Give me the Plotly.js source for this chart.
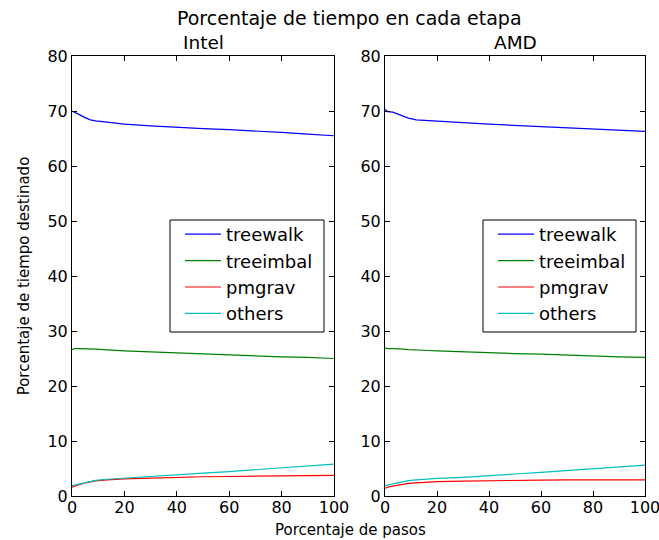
<!DOCTYPE html>
<html>
<head>
<meta charset="utf-8">
<script src="https://cdn.plot.ly/plotly-3.0.1.min.js"></script>
<style>html,body{margin:0;padding:0;background:#fff;}#chart{width:659px;height:540px;}</style>
</head>
<body>
<div id="chart"></div>
<script>
// Percent of steps (x) sampled along the run
const pasos = [0, 1, 3, 5, 7, 9, 12, 15, 20, 30, 40, 50, 60, 70, 80, 90, 100];

// Intel
const intelTreewalk  = [70.0, 69.8, 69.3, 68.8, 68.4, 68.2, 68.0, 67.8, 67.6, 67.3, 67.0, 66.8, 66.6, 66.4, 66.1, 65.8, 65.5];
const intelTreeimbal = [26.6, 26.8, 26.8, 26.8, 26.8, 26.7, 26.6, 26.5, 26.4, 26.2, 26.0, 25.8, 25.7, 25.5, 25.3, 25.2, 25.0];
const intelPmgrav    = [1.6, 1.8, 2.1, 2.4, 2.6, 2.75, 2.9, 3.0, 3.1, 3.25, 3.4, 3.5, 3.55, 3.6, 3.7, 3.75, 3.75];
const intelOthers    = [1.9, 2.0, 2.2, 2.5, 2.7, 2.85, 3.0, 3.1, 3.25, 3.5, 3.85, 4.15, 4.45, 4.8, 5.15, 5.5, 5.8];

// AMD
const amdTreewalk  = [70.3, 69.9, 69.8, 69.4, 69.0, 68.7, 68.4, 68.3, 68.1, 67.9, 67.6, 67.4, 67.2, 67.0, 66.8, 66.6, 66.3];
const amdTreeimbal = [26.9, 26.8, 26.8, 26.8, 26.7, 26.6, 26.5, 26.5, 26.4, 26.2, 26.0, 25.9, 25.8, 25.6, 25.4, 25.3, 25.2];
const amdPmgrav    = [1.4, 1.6, 1.8, 2.0, 2.2, 2.3, 2.4, 2.5, 2.6, 2.7, 2.8, 2.85, 2.9, 2.95, 2.95, 2.95, 2.95];
const amdOthers    = [1.9, 2.0, 2.2, 2.4, 2.6, 2.8, 2.95, 3.05, 3.2, 3.4, 3.75, 4.0, 4.3, 4.6, 4.95, 5.3, 5.6];

const seriesNames = ['treewalk', 'treeimbal', 'pmgrav', 'others'];
const seriesColors = ['#0000ff', '#008000', '#ff0000', '#00bfbf'];
const xTicks = [0, 20, 40, 60, 80, 100];
const yTicks = [0, 10, 20, 30, 40, 50, 60, 70, 80];

const FONT = 'DejaVu Sans, sans-serif';

const intelData = [intelTreewalk, intelTreeimbal, intelPmgrav, intelOthers];
const amdData = [amdTreewalk, amdTreeimbal, amdPmgrav, amdOthers];

const traces = [];
intelData.forEach((ys, i) => traces.push({
  x: pasos, y: ys, type: 'scatter', mode: 'lines', name: seriesNames[i],
  line: {color: seriesColors[i], width: 1.2}, xaxis: 'x', yaxis: 'y', legend: 'legend'
}));
amdData.forEach((ys, i) => traces.push({
  x: pasos, y: ys, type: 'scatter', mode: 'lines', name: seriesNames[i],
  line: {color: seriesColors[i], width: 1.2}, xaxis: 'x2', yaxis: 'y2', legend: 'legend2'
}));

function xax(domain, anchor) {
  return {
    domain: domain, anchor: anchor, range: [0, 100], tickvals: xTicks,
    ticks: 'inside', ticklen: 5, tickcolor: '#000', showline: true, linecolor: '#000',
    linewidth: 1, mirror: 'ticks', showgrid: false, zeroline: false,
    ticklabeloverflow: 'allow', ticklabelstandoff: -3,
    tickfont: {family: FONT, size: 16, color: '#000'}
  };
}
function yax(domain, anchor, titleText) {
  const a = {
    domain: domain, anchor: anchor, range: [0, 80], tickvals: yTicks,
    ticks: 'inside', ticklen: 5, tickcolor: '#000', showline: true, linecolor: '#000',
    linewidth: 1, mirror: 'ticks', showgrid: false, zeroline: false,
    ticklabeloverflow: 'allow',
    tickfont: {family: FONT, size: 16, color: '#000'}
  };
  if (titleText) a.title = {text: titleText, font: {family: FONT, size: 15, color: '#000'}, standoff: 14};
  return a;
}

const yDom = [44 / 540, 484 / 540];
const legendCommon = {
  bgcolor: 'rgba(0,0,0,0)', borderwidth: 0, itemwidth: 36,
  font: {family: FONT, size: 18, color: '#000'}, xanchor: 'left', yanchor: 'top'
};

function legendFrame(x0, x1) {
  return {type: 'rect', xref: 'paper', yref: 'paper', layer: 'above',
          x0: x0 / 659, x1: x1 / 659, y0: 1 - 332 / 540, y1: 1 - 220 / 540,
          line: {color: '#000', width: 1}, fillcolor: '#fff'};
}

const layout = {
  width: 659, height: 540,
  margin: {l: 0, r: 0, t: 0, b: 0},
  paper_bgcolor: '#fff', plot_bgcolor: '#fff',
  showlegend: true,
  title: {text: 'Porcentaje de tiempo en cada etapa', font: {family: FONT, size: 19, color: '#000'},
          x: 0.53, xanchor: 'center', y: 1 - 18 / 540, yanchor: 'middle'},
  xaxis: xax([72 / 659, 334 / 659], 'y'),
  yaxis: yax(yDom, 'x', 'Porcentaje de tiempo destinado'),
  xaxis2: xax([385 / 659, 645 / 659], 'y2'),
  yaxis2: yax(yDom, 'x2', null),
  legend: Object.assign({x: 180 / 659, y: 1 - 216 / 540}, legendCommon),
  legend2: Object.assign({x: 493 / 659, y: 1 - 216 / 540}, legendCommon),
  shapes: [legendFrame(170, 324), legendFrame(483, 636)],
  annotations: [
    {text: 'Intel', xref: 'paper', yref: 'paper', x: 203 / 659, y: 1 - 43 / 540,
     xanchor: 'center', yanchor: 'middle', showarrow: false, font: {family: FONT, size: 18.5, color: '#000'}},
    {text: 'AMD', xref: 'paper', yref: 'paper', x: 515 / 659, y: 1 - 43 / 540,
     xanchor: 'center', yanchor: 'middle', showarrow: false, font: {family: FONT, size: 18.5, color: '#000'}},
    {text: 'Porcentaje de pasos', xref: 'paper', yref: 'paper', x: 350 / 659, y: 1 - 530 / 540,
     xanchor: 'center', yanchor: 'middle', showarrow: false, font: {family: FONT, size: 15, color: '#000'}}
  ]
};

Plotly.newPlot('chart', traces, layout, {displayModeBar: false, staticPlot: true});
</script>
</body>
</html>
